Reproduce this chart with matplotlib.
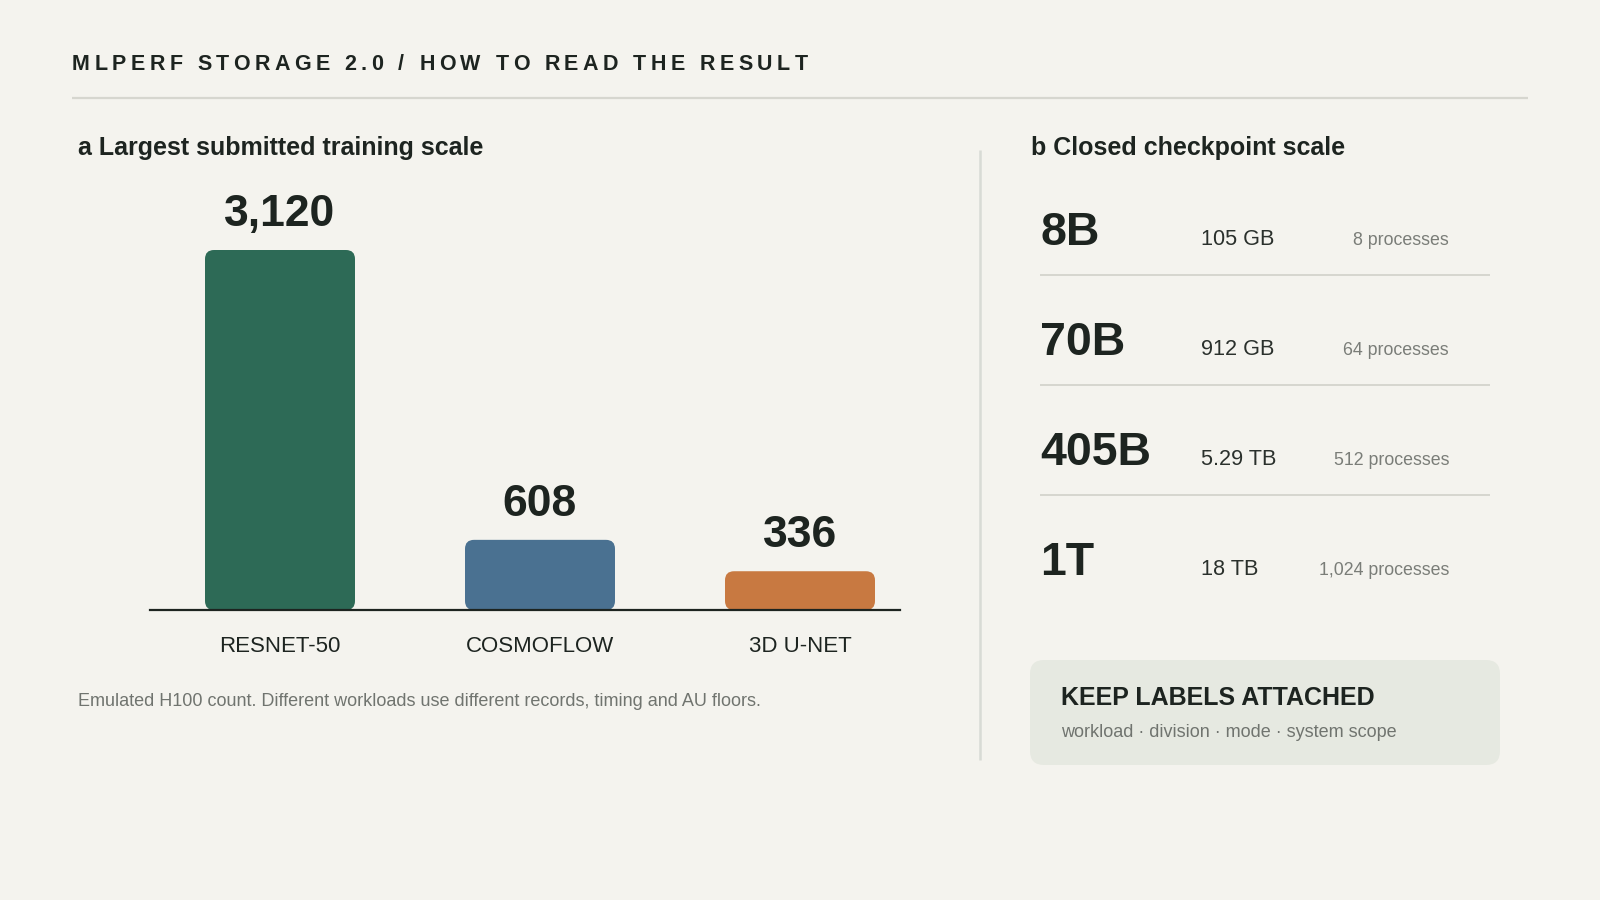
import matplotlib
matplotlib.use("Agg")
import matplotlib.pyplot as plt
from matplotlib.patches import FancyBboxPatch
from matplotlib.font_manager import FontProperties

plt.rcParams["font.family"] = ["Liberation Sans", "DejaVu Sans"]

# ======================================================================
# Data
# ======================================================================
WORKLOADS = ["RESNET-50", "COSMOFLOW", "3D U-NET"]
H100_COUNT = [3120, 608, 336]
BAR_COLORS = ["#2d6a56", "#4a7191", "#c87941"]

CKPT_MODELS = ["8B", "70B", "405B", "1T"]
CKPT_SIZES = ["105 GB", "912 GB", "5.29 TB", "18 TB"]
CKPT_PROCS = [8, 64, 512, 1024]

HEADER = "MLPERF STORAGE 2.0 / HOW TO READ THE RESULT"
TITLE_A = "a Largest submitted training scale"
TITLE_B = "b Closed checkpoint scale"
NOTE_A = "Emulated H100 count. Different workloads use different records, timing and AU floors."
BOX_TITLE = "KEEP LABELS ATTACHED"
BOX_TEXT = "workload \u00b7 division \u00b7 mode \u00b7 system scope"

# ======================================================================
# Style
# ======================================================================
BG = "#f4f3ee"
INK = "#1d2420"
GREY = "#70746f"
RULE = "#d6d6cf"
BOX = "#e6e9e1"

W, H = 1600, 900
fig = plt.figure(figsize=(16, 9), dpi=100, facecolor=BG)

# background axes in pixel coords (y down)
bg = fig.add_axes([0, 0, 1, 1])
bg.set_xlim(0, W)
bg.set_ylim(H, 0)
bg.axis("off")
bg.set_facecolor(BG)

# ---- header with letter spacing ----
renderer = fig.canvas.get_renderer()
hprop = FontProperties(family=["Liberation Sans", "DejaVu Sans"], weight="bold", size=15.5)


def text_w(s):
    w, _, _ = renderer.get_text_width_height_descent(s + "|", hprop, ismath=False)
    w0, _, _ = renderer.get_text_width_height_descent("|", hprop, ismath=False)
    return w - w0


HEADER_X0, HEADER_X1 = 72, 806
natural = text_w(HEADER)
gap = (HEADER_X1 - HEADER_X0 - natural) / (len(HEADER) - 1)
for i, ch in enumerate(HEADER):
    if ch == " ":
        continue
    x = HEADER_X0 + text_w(HEADER[:i]) + i * gap
    bg.text(x, 70, ch, fontproperties=hprop, color=INK, va="baseline", ha="left")

bg.plot([72, 1528], [98, 98], color=RULE, lw=1.6, solid_capstyle="butt")

# panel titles
bg.text(78, 155, TITLE_A, fontsize=18, weight="bold", color=INK, va="baseline")
bg.text(1031, 155, TITLE_B, fontsize=18, weight="bold", color=INK, va="baseline")

# vertical divider
bg.plot([980, 980], [150, 760], color="#d8dbd5", lw=1.8, solid_capstyle="butt")

# footnote
bg.text(78, 706, NOTE_A, fontsize=13, color=GREY, va="baseline")

# ---- panel b rows ----
for i, (m, s, p) in enumerate(zip(CKPT_MODELS, CKPT_SIZES, CKPT_PROCS)):
    yb = 245 + 110 * i
    bg.text(1040, yb, m, fontsize=33.5, weight="bold", color=INK, va="baseline")
    bg.text(1201, yb, s, fontsize=15.6, color="#2a302c", va="baseline")
    bg.text(1449, yb, f"{p:,} processes", fontsize=12.8, color="#7a7d78",
            va="baseline", ha="right")
    if i < len(CKPT_MODELS) - 1:
        bg.plot([1040, 1490], [275 + 110 * i] * 2, color=RULE, lw=1.4,
                solid_capstyle="butt")

# callout box
bg.add_patch(FancyBboxPatch((1030, 660), 470, 105,
                            boxstyle="round,pad=0,rounding_size=14",
                            facecolor=BOX, edgecolor="none"))
bg.text(1061, 705, BOX_TITLE, fontsize=18, weight="bold", color=INK, va="baseline")
bg.text(1061, 737, BOX_TEXT, fontsize=13, color=GREY, va="baseline")

# ---- panel a bars ----
AX_L, AX_R, AX_BASE, AX_TOP = 150, 900, 610, 250
ax = fig.add_axes([AX_L / W, (H - AX_BASE) / H, (AX_R - AX_L) / W, (AX_BASE - AX_TOP) / H])
ax.patch.set_alpha(0)
step_px = 260
xmin = -(280 - AX_L) / step_px
ax.set_xlim(xmin, xmin + (AX_R - AX_L) / step_px)
ymax = max(H100_COUNT)
ax.set_ylim(0, ymax)
for sp in ["top", "left", "right"]:
    ax.spines[sp].set_visible(False)
ax.spines["bottom"].set_color(INK)
ax.spines["bottom"].set_linewidth(1.6)
ax.spines["bottom"].set_zorder(5)
ax.set_xticks([])
ax.set_yticks([])

bar_w = 150 / step_px
radius = 9 / step_px
aspect = (ymax / (AX_BASE - AX_TOP)) / (1 / step_px)
for i, (v, c) in enumerate(zip(H100_COUNT, BAR_COLORS)):
    ax.add_patch(FancyBboxPatch((i - bar_w / 2, 0), bar_w, v,
                                boxstyle=f"round,pad=0,rounding_size={radius}",
                                mutation_aspect=aspect, facecolor=c,
                                edgecolor="none", clip_on=False))
    ax.annotate(f"{v:,}", xy=(i, v), xytext=(0, 17.3), textcoords="offset points",
                ha="center", va="baseline", fontsize=32, weight="bold",
                color=INK, annotation_clip=False)
    ax.annotate(WORKLOADS[i], xy=(i, 0), xytext=(0, -30.2), textcoords="offset points",
                ha="center", va="baseline", fontsize=16, color=INK,
                annotation_clip=False)

fig.savefig("out.png", dpi=100, facecolor=BG)
